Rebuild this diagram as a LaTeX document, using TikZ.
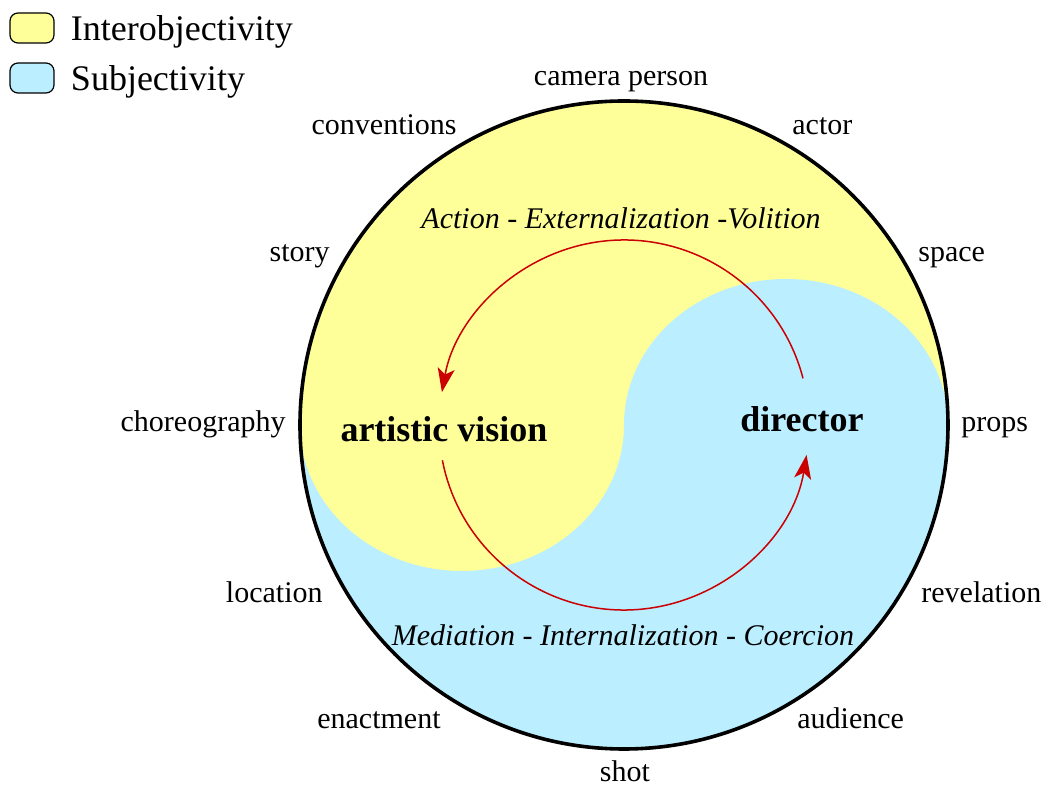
\documentclass[tikz,border=0pt]{standalone}
\usepackage{fontspec}
\setmainfont{Liberation Serif}
\usetikzlibrary{arrows.meta,positioning}
\definecolor{yolk}{RGB}{255,255,153}
\definecolor{sky}{RGB}{187,238,255}
\definecolor{cyclered}{RGB}{204,0,0}

\begin{document}
\begin{tikzpicture}[x=0.5pt, y=0.5pt,
    rimlabel/.style={font=\fontsize{15pt}{18pt}\selectfont, inner sep=0pt},
    pole/.style={font=\fontsize{18pt}{21pt}\selectfont\bfseries, inner sep=0pt},
    phase/.style={font=\fontsize{15pt}{18pt}\selectfont\itshape, inner sep=0pt},
    keybox/.style={draw=black, line width=0.6pt, rounded corners=4pt,
      minimum width=22pt, minimum height=15pt, inner sep=0pt},
    keytext/.style={font=\fontsize{18pt}{21pt}\selectfont, inner sep=0pt,
      yshift=-2pt},
    cycle/.style={draw=cyclered, line width=0.75pt,
      -{Stealth[length=12pt, width=8.5pt, inset=3pt]}}]
  \useasboundingbox (-624,-361) rectangle (420,425);

  % yin-yang disc
  \coordinate (hub) at (0,0);
  \fill[yolk] (hub) circle[radius=324];
  \fill[sky] (-324,0) arc[start angle=180, end angle=360, radius=324]
    arc[start angle=0, end angle=180, x radius=162, y radius=146]
    arc[start angle=0, end angle=-180, x radius=162, y radius=146] -- cycle;
  \draw[line width=1.8pt] (hub) circle[radius=324];

  % legend
  \node[keybox, fill=yolk] (keyinter) at (-592,397) {};
  \node[keybox, fill=sky] (keysubj) at (-592,347) {};
  \node[keytext, right=8pt of keyinter] (txtinter) {Interobjectivity};
  \node[keytext, right=8pt of keysubj] (txtsubj) {Subjectivity};

  % labels round the rim
  \node[rimlabel, anchor=base] (camera) at (-3,339) {camera person};
  \node[rimlabel, anchor=base east] (conventions) at (-167,290) {conventions};
  \node[rimlabel, anchor=base west] (actor) at (168,290) {actor};
  \node[rimlabel, anchor=base east] (story) at (-294,163) {story};
  \node[rimlabel, anchor=base west] (space) at (294,163) {space};
  \node[rimlabel, anchor=base east] (choreo) at (-338,-7) {choreography};
  \node[rimlabel, anchor=base west] (props) at (337,-7) {props};
  \node[rimlabel, anchor=base east] (location) at (-301,-178) {location};
  \node[rimlabel, anchor=base west] (revelation) at (297,-178) {revelation};
  \node[rimlabel, anchor=base east] (enactment) at (-183,-304) {enactment};
  \node[rimlabel, anchor=base west] (audience) at (173,-304) {audience};
  \node[rimlabel, anchor=base] (shot) at (1,-357) {shot};

  % poles and phases
  \node[pole, anchor=base] (vision) at (-180,-17) {artistic vision};
  \node[pole, anchor=base] (director) at (178,-7) {director};
  \node[phase, anchor=base] (outward) at (-3,196)
    {Action - Externalization -Volition};
  \node[phase, anchor=base] (inward) at (-1,-221)
    {Mediation - Internalization - Coercion};

  % the cycle
  \draw[cycle] ([shift={(14.6:185)}]hub)
    arc[start angle=14.6, end angle=169.8, radius=185];
  \draw[cycle] ([shift={(191:185)}]hub)
    arc[start angle=191, end angle=350.7, radius=185];
\end{tikzpicture}
\end{document}
